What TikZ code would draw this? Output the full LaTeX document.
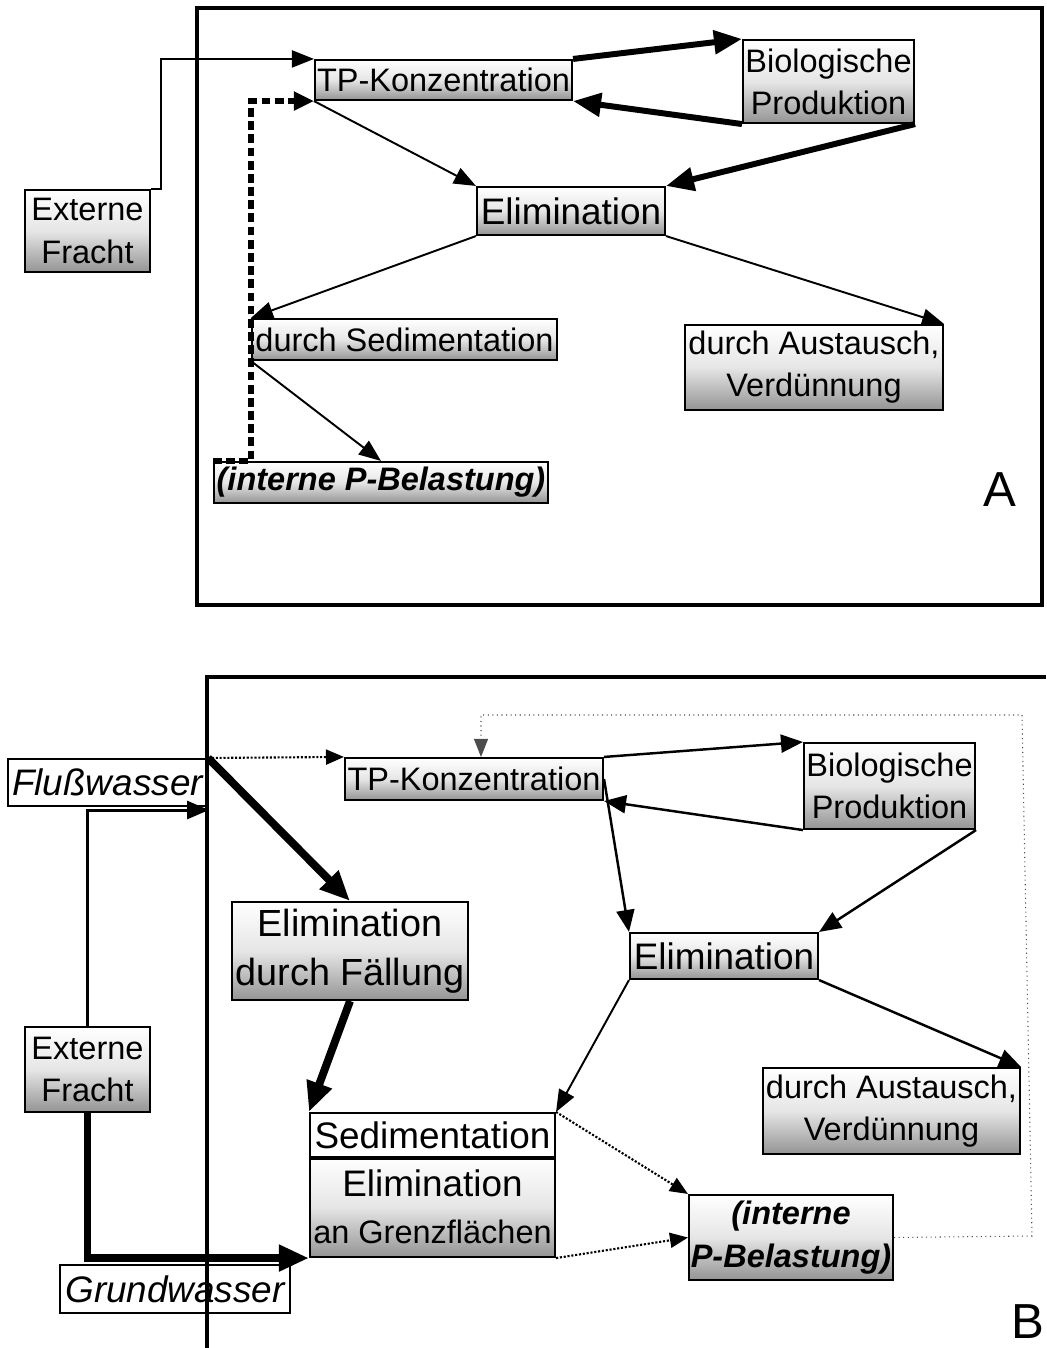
\documentclass[tikz,border=0pt]{standalone}
\usepackage{fontspec}
\setmainfont{Liberation Sans}
\usetikzlibrary{arrows.meta}

\tikzset{
  gbox/.style={draw, line width=1.2pt, top color=white, bottom color=black!42, middle color=black!10, inner sep=0pt, align=center, font=\fontsize{18.5}{24}\selectfont},
  wbox/.style={draw, line width=1.2pt, fill=white, inner sep=0pt, align=center, font=\fontsize{21}{26}\selectfont\itshape},
  frame/.style={line width=2.2pt},
  thinarrow/.style={-{Triangle[length=0.44cm,width=0.34cm]}, line width=1.1pt},
  medarrow/.style={-{Triangle[length=0.44cm,width=0.36cm]}, line width=1.4pt},
  thickarrow/.style={-{Triangle[length=0.56cm,width=0.46cm]}, line width=3.4pt},
  heavyarrow/.style={-{Triangle[length=0.6cm,width=0.5cm]}, line width=4.5pt},
  dotarrow/.style={-{Triangle[length=0.36cm,width=0.3cm]}, line width=1.2pt, densely dotted},
  dashline/.style={-{Triangle[length=0.4cm,width=0.36cm]}, line width=3pt, dash pattern=on 5pt off 2.5pt},
  backline/.style={-{Triangle[length=0.36cm,width=0.28cm]}, line width=0.6pt, dotted, draw=black!70},
  panellabel/.style={font=\fontsize{28}{30}\selectfont}
}

\begin{document}
\begin{tikzpicture}[x=0.02cm, y=-0.02cm]
\useasboundingbox (0,0) rectangle (1046,1348);

% Panel A
\draw[frame] (197,8) rectangle (1042,605);
\node[gbox, minimum width=2.5cm, minimum height=1.64cm] (extA) at (87.5,231) {Externe\\Fracht};
\node[gbox, minimum width=5.14cm, minimum height=0.8cm] (tpA) at (443.5,80) {TP-Konzentration};
\node[gbox, minimum width=3.42cm, minimum height=1.66cm] (bioA) at (828.5,81.5) {Biologische\\Produktion};
\node[gbox, minimum width=3.76cm, minimum height=0.96cm, font=\fontsize{21}{26}\selectfont] (elimA) at (571,211) {Elimination};
\node[gbox, minimum width=6.1cm, minimum height=0.82cm] (sedA) at (404.5,339.5) {durch Sedimentation};
\node[gbox, minimum width=5.16cm, minimum height=1.7cm] (austA) at (814,367.5) {durch Austausch,\\Verdünnung};
\node[gbox, minimum width=6.68cm, minimum height=0.82cm, font=\fontsize{18.5}{24}\selectfont\bfseries\itshape] (intA) at (381,482.5) {(interne P-Belastung)};
\node[panellabel] (labA) at (1000,490) {A};

\draw[thinarrow] (extA.north east) -- ++(10,0) |- (tpA.north west);
\draw[thickarrow] (tpA.north east) -- (bioA.north west);
\draw[thickarrow] (bioA.south west) -- (tpA.south east);
\draw[thickarrow] (bioA.south east) -- (elimA.north east);
\draw[thinarrow] (tpA.south west) -- (elimA.north west);
\draw[thinarrow] (elimA.south west) -- (sedA.north west);
\draw[thinarrow] (elimA.south east) -- (austA.north east);
\draw[thinarrow] (sedA.south west) -- (intA.north);
\draw[dashline] (intA.north west) -- (sedA.west |- intA.north) |- (tpA.south west);

% Panel B
\node[wbox, minimum width=3.98cm, minimum height=0.94cm] (fluss) at (107.5,782.5) {Flußwasser};
\node[gbox, minimum width=5.16cm, minimum height=0.84cm] (tpB) at (474,779) {TP-Konzentration};
\node[gbox, minimum width=3.42cm, minimum height=1.72cm] (bioB) at (889.5,786) {Biologische\\Produktion};
\node[gbox, minimum width=3.76cm, minimum height=0.92cm, font=\fontsize{21}{26}\selectfont] (elimB) at (724,956) {Elimination};
\node[gbox, minimum width=4.72cm, minimum height=1.96cm, font=\fontsize{21.5}{28}\selectfont] (faell) at (350,951) {Elimination\\durch Fällung};
\node[gbox, minimum width=2.5cm, minimum height=1.7cm] (extB) at (87.5,1069.5) {Externe\\Fracht};
\node[gbox, top color=white, bottom color=white, middle color=white, minimum width=4.9cm, minimum height=0.88cm, font=\fontsize{21}{26}\selectfont] (sedtop) at (432.5,1135) {Sedimentation};
\node[gbox, minimum width=4.9cm, minimum height=2.0cm, font=\fontsize{21}{27}\selectfont] (sedbot) at (432.5,1207) {Elimination\\\fontsize{18.5}{27}\selectfont an Grenzflächen};
\node[gbox, minimum width=5.14cm, minimum height=1.72cm] (austB) at (891.5,1111) {durch Austausch,\\Verdünnung};
\node[gbox, minimum width=4.08cm, minimum height=1.7cm, font=\fontsize{18.5}{24}\selectfont\bfseries\itshape] (intB) at (791,1237.5) {(interne\\P-Belastung)};
\node[wbox, minimum width=4.6cm, minimum height=0.96cm] (grund) at (175,1289) {Grundwasser};
\node[panellabel] (labB) at (1028,1322) {B};
\draw[line width=1.8pt] (sedtop.south west) -- (sedtop.south east);

\coordinate (flussIn) at (209,810);
\coordinate (retA) at (1032,1236);
\coordinate (retB) at (1022,715);
\coordinate (retC) at (481,715);

\draw[dotarrow] (fluss.north east) -- (tpB.north west);
\draw[heavyarrow] (fluss.north east) -- (faell.north);
\draw[medarrow, line width=1.7pt] (extB.north) |- (flussIn);
\draw[heavyarrow] (extB.south) |- (sedbot.south west);
\draw[heavyarrow] (faell.south) -- (sedtop.north west);
\draw[medarrow] (tpB.north east) -- (bioB.north west);
\draw[medarrow] (bioB.south west) -- (tpB.south east);
\draw[medarrow] (tpB.east) -- (elimB.north west);
\draw[medarrow] (bioB.south east) -- (elimB.north east);
\draw[thinarrow] (elimB.south west) -- (sedtop.north east);
\draw[medarrow] (elimB.south east) -- (austB.north east);
\draw[dotarrow] (sedtop.north east) -- (intB.north west);
\draw[dotarrow] (sedbot.south east) -- (intB.west);
\draw[backline] (intB.east) -- (retA) -- (retB) -- (retC) -- (retC |- tpB.north);

\draw[frame] (207,1348) |- (1046,677);

\end{tikzpicture}
\end{document}
